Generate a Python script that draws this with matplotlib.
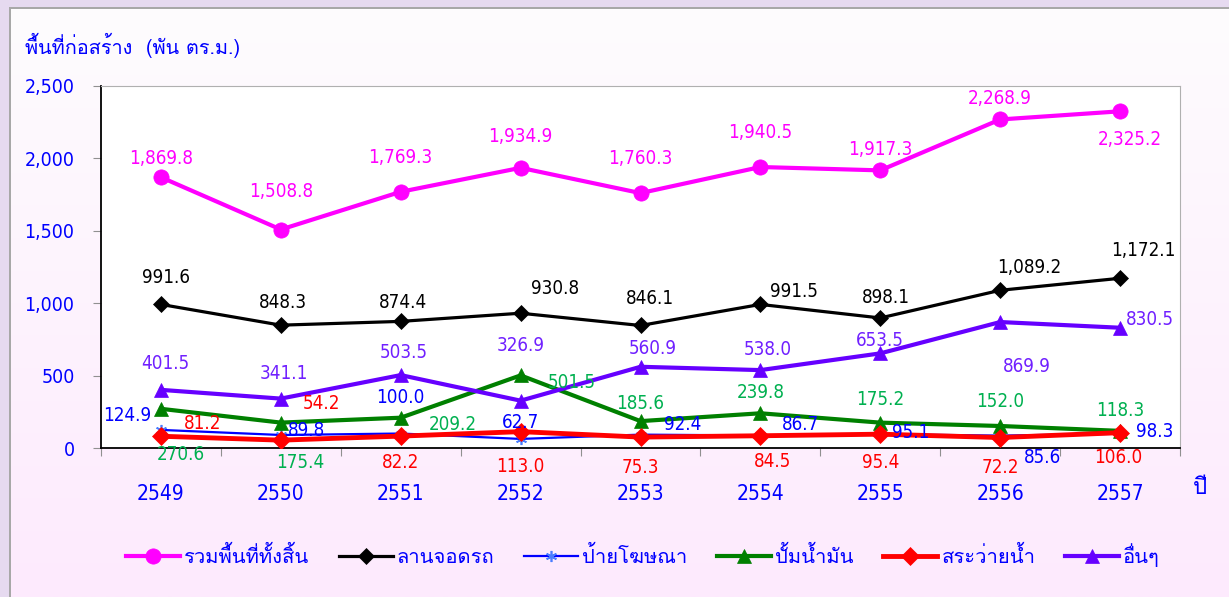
import matplotlib

matplotlib.use('Agg')

import matplotlib.pyplot as plt
import numpy as np
from matplotlib.font_manager import FontProperties
from matplotlib.patches import Rectangle

years = ['2549', '2550', '2551', '2552', '2553', '2554', '2555', '2556', '2557']

series_names = ['รวมพื้นที่ทั้งสิ้น', 'ลานจอดรถ', 'ป้ายโฆษณา', 'ปั้มน้ำมัน', 'สระว่ายน้ำ', 'อื่นๆ']
total = [1869.8, 1508.8, 1769.3, 1934.9, 1760.3, 1940.5, 1917.3, 2268.9, 2325.2]
parking = [991.6, 848.3, 874.4, 930.8, 846.1, 991.5, 898.1, 1089.2, 1172.1]
billboard = [124.9, 89.8, 100.0, 62.7, 92.4, 86.7, 95.1, 85.6, 98.3]
gas_station = [270.6, 175.4, 209.2, 501.5, 185.6, 239.8, 175.2, 152.0, 118.3]
pool = [81.2, 54.2, 82.2, 113.0, 75.3, 84.5, 95.4, 72.2, 106.0]
others = [401.5, 341.1, 503.5, 326.9, 560.9, 538.0, 653.5, 869.9, 830.5]

# label offsets in pixels (dx, dy), hand placed like the original
total_off = [(0, 19), (0, 38), (0, 34), (0, 31), (0, 35), (0, 35), (0, 21), (0, 21), (10, -28)]
parking_off = [(5, 27), (2, 23), (2, 19), (34, 25), (9, 27), (34, 13), (6, 20), (29, 23), (23, 28)]
billboard_off = [(-34, 14), (26, 4), (0, 36), (0, 16), (42, 10), (40, 11), (30, 2), (42, -22), (35, 2)]
gas_off = [(20, -46), (19, -40), (52, -7), (51, -7), (0, 18), (0, 21), (0, 23), (0, 24), (0, 20)]
pool_off = [(42, 13), (41, 37), (0, -26), (0, -35), (0, -30), (12, -26), (0, -28), (0, -30), (-2, -25)]
others_off = [(4, 26), (3, 25), (3, 23), (0, 55), (12, 18), (7, 21), (0, 13), (27, -44), (30, 8)]

TEXT_BLUE = '#0000FF'
THAI_FAMILY = ['Loma', 'DejaVu Sans']

plt.rcParams['font.family'] = ['DejaVu Sans', 'Loma']

fig = plt.figure(figsize=(12.29, 5.97), dpi=100)
fig.patch.set_facecolor('#E6DAF0')

# pink gradient panel with grey frame line, like the spreadsheet chart area
bg = fig.add_axes([11 / 1229, 0, 1 - 11 / 1229, 1 - 9 / 597])
grad = np.linspace(0, 1, 256).reshape(-1, 1)
top_c = np.array([254, 252, 254]) / 255
bot_c = np.array([253, 234, 253]) / 255
img = top_c + (bot_c - top_c) * grad[:, :, None]
bg.imshow(img, aspect='auto', extent=[0, 1, 0, 1], origin='upper')
bg.axis('off')
fig.patches.append(Rectangle((9 / 1229, 0), 2 / 1229, 1 - 7 / 597, transform=fig.transFigure,
                             facecolor='#A8A8A8', edgecolor='none'))
fig.patches.append(Rectangle((9 / 1229, 1 - 9 / 597), 1 - 9 / 1229, 2 / 597, transform=fig.transFigure,
                             facecolor='#A8A8A8', edgecolor='none'))

ax = fig.add_axes([101 / 1229, 149 / 597, 1079 / 1229, 362 / 597])
ax.set_facecolor('white')
x = np.arange(len(years))

styles = [
    (total, total_off, '#FF00FF', '#FF00FF', 'o', 11, 3.0, '#FF00FF', '#FF00FF'),
    (parking, parking_off, 'black', 'black', 'D', 8, 2.3, 'black', 'black'),
    (billboard, billboard_off, '#0000FF', '#4A7DFF', '*', 8, 1.6, TEXT_BLUE, '#4A7DFF'),
    (gas_station, gas_off, '#008000', '#008000', '^', 10, 3.0, '#00B050', '#008000'),
    (pool, pool_off, '#FF0000', '#FF0000', 'D', 9, 3.5, '#FF0000', '#FF0000'),
    (others, others_off, '#6600FF', '#6600FF', '^', 10, 3.0, '#7020FF', '#6600FF'),
]

for name, (vals, offs, lc, mc, mk, ms, lw, tc, mec) in zip(series_names, styles):
    marker = (6, 2, 0) if mk == '*' else mk
    ax.plot(x, vals, color=lc, linewidth=lw, marker=marker, markersize=ms,
            markerfacecolor=mc, markeredgecolor=mec, markeredgewidth=1.2 if mk == '*' else 0.5,
            label=name, zorder=3)
    for xi, v, (dx, dy) in zip(x, vals, offs):
        ax.annotate(f'{v:,.1f}', (xi, v), xytext=(dx, dy), textcoords='offset pixels',
                    ha='center', va='center', color=tc, fontsize=13.5,
                    fontstretch='condensed', zorder=4)

ax.set_xlim(-0.5, len(years) - 0.5)
ax.set_ylim(0, 2500)
ax.set_yticks(np.arange(0, 2501, 500))
ax.set_yticklabels([f'{v:,.0f}' for v in np.arange(0, 2501, 500)])
ax.set_xticks(np.arange(-0.5, len(years), 1.0))
ax.set_xticklabels([])
ax.set_xticks(x, minor=True)
ax.set_xticklabels(years, minor=True)
ax.tick_params(axis='x', which='major', length=6, color='#909090', direction='out')
ax.tick_params(axis='x', which='minor', length=0, pad=26, labelsize=15, labelcolor=TEXT_BLUE)
ax.tick_params(axis='y', length=6, color='#909090', direction='out', pad=13,
               labelsize=14, labelcolor=TEXT_BLUE)
for lab in ax.get_yticklabels() + ax.get_xticklabels(minor=True):
    lab.set_fontstretch('condensed')
ax.spines['left'].set_color('black')
ax.spines['bottom'].set_color('black')
ax.spines['left'].set_linewidth(1.3)
ax.spines['bottom'].set_linewidth(1.3)
ax.spines['top'].set_color('#B0B0B0')
ax.spines['right'].set_color('#B0B0B0')

fig.text(25 / 1229, 1 - 45 / 597, 'พื้นที่ก่อสร้าง  (พัน ตร.ม.)', color=TEXT_BLUE, fontsize=14.3,
         family=THAI_FAMILY, ha='left', va='center')
fig.text(1200 / 1229, 1 - 488 / 597, 'ปี', color=TEXT_BLUE, fontsize=16,
         family=THAI_FAMILY, ha='center', va='center')

leg = fig.legend(loc='center', bbox_to_anchor=(0.523, 0.07), ncol=6, frameon=False,
                 prop=FontProperties(family=THAI_FAMILY, size=14.5),
                 handlelength=2.7, handletextpad=0.2, columnspacing=1.45)
for t in leg.get_texts():
    t.set_color(TEXT_BLUE)

fig.savefig('out.png', dpi=100, facecolor=fig.get_facecolor())
